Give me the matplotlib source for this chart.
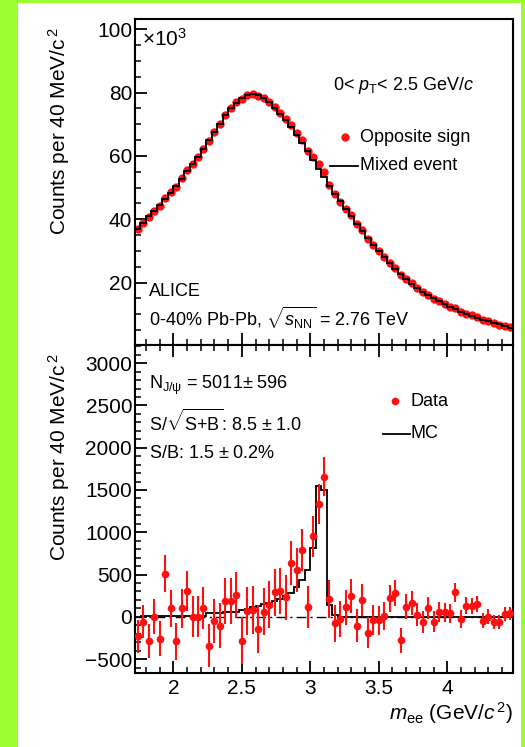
import numpy as np
import matplotlib
matplotlib.use('Agg')
import matplotlib.pyplot as plt
from matplotlib.ticker import MultipleLocator, FormatStrFormatter
from matplotlib.patches import Rectangle
from matplotlib.lines import Line2D

plt.rcParams['font.family'] = ['Liberation Sans', 'DejaVu Sans']
plt.rcParams['mathtext.fontset'] = 'custom'
plt.rcParams['mathtext.rm'] = 'Liberation Sans'
plt.rcParams['mathtext.it'] = 'Liberation Sans:italic'
plt.rcParams['mathtext.bf'] = 'Liberation Sans:bold'
plt.rcParams['mathtext.sf'] = 'Liberation Sans'

# ---------------- data ----------------
# invariant-mass bins (40 MeV wide), GeV/c^2
mass_lo = 1.72
mass_hi = 4.48
bin_width = 0.04

# top panel, counts per bin in units of 10^3
mixed_event = [
    37.0, 38.9, 40.9, 42.6, 44.4, 46.3, 48.4, 50.4, 52.8, 55.1,
    57.4, 59.6, 62.2, 64.9, 67.6, 70.2, 72.8, 75.0, 76.8, 78.2,
    79.2, 79.6, 79.2, 78.3, 76.9, 75.2, 73.3, 71.3, 69.0, 66.6,
    64.1, 61.4, 58.7, 56.0, 53.3, 50.6, 48.0, 45.6, 43.2, 41.0,
    38.6, 36.3, 34.1, 32.0, 30.0, 28.0, 26.1, 24.3, 22.6, 21.0,
    19.6, 18.3, 17.1, 16.0, 15.0, 14.1, 13.2, 12.4, 11.6, 10.8,
    10.1, 9.5, 8.9, 8.3, 7.8, 7.3, 6.8, 6.3, 5.8]
opposite_sign = [
    36.77, 38.84, 40.62, 42.60, 44.14, 46.81, 48.50, 50.11, 52.90, 55.41,
    57.40, 59.60, 62.30, 64.56, 67.55, 70.09, 72.99, 75.19, 77.06, 77.92,
    79.27, 79.68, 79.05, 78.36, 77.04, 75.49, 73.61, 71.53, 69.64, 67.15,
    64.89, 61.51, 59.66, 57.33, 54.96, 50.81, 47.92, 45.57, 43.31, 41.25,
    38.49, 36.50, 33.91, 31.96, 29.96, 28.01, 26.32, 24.58, 22.32, 21.12,
    19.76, 18.32, 17.04, 16.10, 14.94, 14.16, 13.25, 12.44, 11.89, 10.77,
    10.23, 9.63, 9.05, 8.25, 7.80, 7.24, 6.74, 6.33, 5.84]

# bottom panel: background-subtracted data
signal_data = [
    -233, -59, -284, 0, -257, 510, 99, -292, 99, 308,
    0, 0, 103, -344, -47, -107, 190, 190, 257, -284,
    67, 83, -146, 59, 142, 288, 308, 230, 636, 553,
    790, 111, 955, 1330, 1655, 209, -79, -28, 111, 249,
    -107, 201, -186, -40, -40, 12, 217, 280, -277, 119,
    162, 24, -59, 103, -59, 59, 51, 43, 288, -28,
    130, 130, 146, -47, 0, -59, -59, 32, 43]
signal_err = [
    192, 197, 202, 206, 211, 215, 220, 224, 230, 235,
    240, 244, 249, 255, 260, 265, 270, 274, 277, 280,
    281, 282, 281, 280, 277, 274, 271, 267, 263, 258,
    253, 248, 242, 237, 231, 225, 219, 214, 208, 202,
    196, 191, 185, 179, 173, 167, 162, 156, 150, 145,
    140, 135, 131, 126, 122, 119, 115, 111, 108, 104,
    100, 97, 94, 91, 88, 85, 82, 79, 76]
# MC J/psi line shape (starts one bin later)
mc_start = 1.76
mc_counts = [
    15, 15, 15, 15, 15, 15, 15, 15, 15, 15,
    15, 15, 40, 40, 40, 60, 60, 60, 80, 95,
    110, 128, 148, 168, 190, 212, 240, 280, 352, 440,
    549, 810, 1548, 1505, 140, 25, 0, 0, 0, 0,
    0, 0, 0, 0, 0, 0, 0, 0, 0, 0,
    0, 0, 0, 0, 0, 0, 0, 0, 0, 0,
    0, 0, 0, 0, 0, 0, 0, 0]

n_bins = len(mixed_event)
edges = mass_lo + bin_width * np.arange(n_bins + 1)
centers = 0.5 * (edges[:-1] + edges[1:])
mc_edges = mc_start + bin_width * np.arange(len(mc_counts) + 1)

# ---------------- figure ----------------
W, H = 525, 747
fig = plt.figure(figsize=(W / 100, H / 100), dpi=100)
fig.patch.set_facecolor('#99FF33')
fig.add_artist(Rectangle((18 / W, 0), (521 - 18) / W, (H - 2.5) / H,
                         transform=fig.transFigure, facecolor='white',
                         edgecolor='none', zorder=-10))


def fx(x):
    return x / W


def fy(y):
    return 1 - y / H


ax1 = fig.add_axes([fx(135), fy(345), 378 / W, 326 / H])
ax2 = fig.add_axes([fx(135), fy(673), 378 / W, 328 / H])

RED = '#FF1010'

# top panel
ax1.plot(centers, opposite_sign, 'o', color=RED, ms=6, mec='none', zorder=2)
ax1.stairs(mixed_event, edges, baseline=None, color='black', lw=1.3, zorder=3)
ax1.set_xlim(mass_lo, mass_hi)
ax1.set_ylim(0.3, 103.2)

# bottom panel
ax2.axhline(0, color='black', lw=1.0, ls=(0, (7, 3, 1.5, 3)), zorder=1)
ax2.stairs(mc_counts, mc_edges, baseline=None, color='black', lw=1.3, zorder=2)
ax2.errorbar(centers, signal_data, yerr=signal_err, fmt='o', color=RED,
             ms=5.5, mec='none', elinewidth=1.5, capsize=0, zorder=3)
ax2.set_xlim(mass_lo, mass_hi)
ax2.set_ylim(-665, 3215)

for ax in (ax1, ax2):
    for s in ax.spines.values():
        s.set_linewidth(1.5)
    ax.xaxis.set_major_locator(MultipleLocator(0.5))
    ax.xaxis.set_minor_locator(MultipleLocator(0.1))
    ax.xaxis.set_major_formatter(FormatStrFormatter('%g'))
    ax.tick_params(axis='both', which='both', direction='in', right=False,
                   labelsize=15)
    ax.tick_params(axis='both', which='major', length=8.5, width=1.3)
    ax.tick_params(axis='both', which='minor', length=4.5, width=1.1)
    ax.tick_params(axis='y', pad=2)
    ax.tick_params(axis='x', pad=4)

ax1.yaxis.set_major_locator(MultipleLocator(20))
ax1.yaxis.set_minor_locator(MultipleLocator(5))
ax1.tick_params(axis='x', which='both', top=False, labelbottom=False)
ax2.yaxis.set_major_locator(MultipleLocator(500))
ax2.yaxis.set_minor_locator(MultipleLocator(100))
ax2.tick_params(axis='x', which='both', top=True)

# axis titles
fig.text(fx(513), fy(713), r'$m_{\rm ee}$ (GeV/$c^{\,2}$)', ha='right',
         va='center', fontsize=15)
fig.text(fx(59), fy(27), r'Counts per 40 MeV/c$^{\,2}$', rotation=90,
         ha='center', va='top', fontsize=15)
fig.text(fx(59), fy(353), r'Counts per 40 MeV/c$^{\,2}$', rotation=90,
         ha='center', va='top', fontsize=15)

# top panel annotations
fig.text(fx(142), fy(39), r'$\times$10$^{3}$', fontsize=15, va='center')
fig.text(fx(333), fy(85), r'0< $p_{\rm T}$< 2.5 GeV/$c$', fontsize=13,
         va='center')
fig.add_artist(Line2D([fx(345)], [fy(137)], marker='o', color=RED, ms=6,
                      mec='none', transform=fig.transFigure))
fig.text(fx(360), fy(137), 'Opposite sign', fontsize=13, va='center')
fig.add_artist(Line2D([fx(330), fx(358)], [fy(166), fy(166)], color='black',
                      lw=1.3, transform=fig.transFigure))
fig.text(fx(360), fy(166), 'Mixed event', fontsize=13, va='center')
fig.text(fx(149), fy(292), 'ALICE', fontsize=13, va='center')
fig.text(fx(149), fy(318), r'0-40% Pb-Pb, $\sqrt{s_{\rm NN}}$ = 2.76 TeV',
         fontsize=13, va='center')

# bottom panel annotations
fig.text(fx(149), fy(385), r'N$_{\rm J/\psi}$ = 5011$\pm$ 596', fontsize=13,
         va='center')
fig.text(fx(149), fy(422), r'S/$\sqrt{\mathrm{S{+}B}}$: 8.5 $\pm$ 1.0',
         fontsize=13, va='center')
fig.text(fx(149), fy(454), r'S/B: 1.5 $\pm$ 0.2%', fontsize=13, va='center')
fig.add_artist(Line2D([fx(395)], [fy(401)], marker='o', color=RED, ms=5.5,
                      mec='none', transform=fig.transFigure))
fig.text(fx(410), fy(401), 'Data', fontsize=13, va='center')
fig.add_artist(Line2D([fx(383), fx(410)], [fy(434), fy(434)], color='black',
                      lw=1.3, transform=fig.transFigure))
fig.text(fx(411), fy(434), 'MC', fontsize=13, va='center')

fig.savefig('out.png', dpi=100, facecolor=fig.get_facecolor())
